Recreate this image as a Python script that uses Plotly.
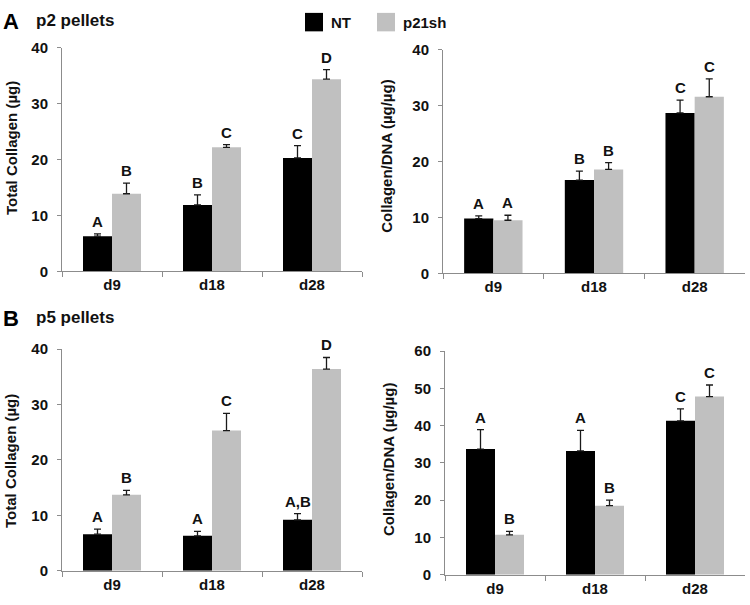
import plotly.graph_objects as go

W, H = 750, 605

categories = ["d9", "d18", "d28"]
series_names = ["NT", "p21sh"]

# Panel A (p2 pellets) - Total collagen
a_total_nt = [6.3, 11.9, 20.3]
a_total_nt_err = [0.4, 1.8, 2.2]
a_total_p21 = [13.9, 22.2, 34.4]
a_total_p21_err = [1.9, 0.5, 1.7]
a_total_nt_letters = ["A", "B", "C"]
a_total_p21_letters = ["B", "C", "D"]

# Panel A - Collagen/DNA
a_ratio_nt = [9.8, 16.7, 28.7]
a_ratio_nt_err = [0.5, 1.6, 2.3]
a_ratio_p21 = [9.5, 18.6, 31.6]
a_ratio_p21_err = [0.9, 1.2, 3.2]
a_ratio_nt_letters = ["A", "B", "C"]
a_ratio_p21_letters = ["A", "B", "C"]

# Panel B (p5 pellets) - Total collagen
b_total_nt = [6.6, 6.3, 9.2]
b_total_nt_err = [0.9, 0.8, 1.1]
b_total_p21 = [13.7, 25.3, 36.4]
b_total_p21_err = [0.8, 3.1, 2.1]
b_total_nt_letters = ["A", "A", "A,B"]
b_total_p21_letters = ["B", "C", "D"]

# Panel B - Collagen/DNA
b_ratio_nt = [33.7, 33.2, 41.3]
b_ratio_nt_err = [5.2, 5.5, 3.2]
b_ratio_p21 = [10.7, 18.5, 47.8]
b_ratio_p21_err = [0.9, 1.5, 3.1]
b_ratio_nt_letters = ["A", "A", "C"]
b_ratio_p21_letters = ["B", "B", "C"]

y_ranges = [[0, 40], [0, 40], [0, 40], [0, 60]]
y_dticks = [10, 10, 10, 10]
y_titles = ["Total Collagen (µg)", "Collagen/DNA (µg/µg)",
            "Total Collagen (µg)", "Collagen/DNA (µg/µg)"]

FONT = "Liberation Sans, Arial, sans-serif"
COL_NT = "#000000"
COL_P21 = "#c0c0c0"
BARGAP = 0.42

panels = [
    (a_total_nt, a_total_nt_err, a_total_p21, a_total_p21_err, a_total_nt_letters, a_total_p21_letters),
    (a_ratio_nt, a_ratio_nt_err, a_ratio_p21, a_ratio_p21_err, a_ratio_nt_letters, a_ratio_p21_letters),
    (b_total_nt, b_total_nt_err, b_total_p21, b_total_p21_err, b_total_nt_letters, b_total_p21_letters),
    (b_ratio_nt, b_ratio_nt_err, b_ratio_p21, b_ratio_p21_err, b_ratio_nt_letters, b_ratio_p21_letters),
]

# pixel layout of plot areas: (x0, x1, y_top, y_bottom)
px_boxes = [(62, 362, 40, 270), (443, 745, 42, 272), (62, 362, 350, 578), (445, 745, 352, 582)]
title_pos = [(12, 143), (387, 152), (11, 465), (389, 464)]

fig = go.Figure()
annotations = []
layout = {}

for i, (nt, nte, p21, p21e, ntl, p21l) in enumerate(panels):
    n = i + 1
    xa = "x" if n == 1 else f"x{n}"
    ya = "y" if n == 1 else f"y{n}"
    for vals, errs, col, name in [(nt, nte, COL_NT, series_names[0]), (p21, p21e, COL_P21, series_names[1])]:
        fig.add_trace(go.Bar(
            x=categories, y=vals, name=name, marker=dict(color=col, line=dict(width=0)),
            error_y=dict(type="data", symmetric=False, array=errs, arrayminus=[0] * len(errs),
                         color="#1a1a1a", thickness=1.3, width=3.5),
            xaxis=xa, yaxis=ya, showlegend=False, legendgroup=name,
        ))
    # significance letters above error bars
    half = (1 - BARGAP) / 4
    for j in range(len(categories)):
        for offs, vals, errs, letters in [(-half, nt, nte, ntl), (half, p21, p21e, p21l)]:
            annotations.append(dict(
                x=j + offs, y=vals[j] + errs[j], xref=xa, yref=ya,
                text=f"<b>{letters[j]}</b>", showarrow=False, yanchor="bottom", yshift=2,
                font=dict(family=FONT, size=15, color="#111111"),
            ))
    x0, x1, yt, yb = px_boxes[i]
    layout[f"xaxis{'' if n == 1 else n}"] = dict(
        domain=[x0 / W, x1 / W], anchor=ya, type="category",
        showline=True, linecolor="#8c8c8c", linewidth=1, ticks="outside", tickson="boundaries",
        ticklen=5, tickcolor="#8c8c8c", showgrid=False, zeroline=False,
        tickfont=dict(family=FONT, size=15, color="#111111", weight="bold"),
        range=[-0.5, 2.5],
    )
    layout[f"yaxis{'' if n == 1 else n}"] = dict(
        domain=[1 - yb / H, 1 - yt / H], anchor=xa, range=y_ranges[i], dtick=y_dticks[i],
        showline=True, linecolor="#8c8c8c", linewidth=1, ticks="outside", ticklen=4,
        tickcolor="#8c8c8c", showgrid=False, zeroline=False, ticklabelstandoff=6,
        tickfont=dict(family=FONT, size=15, color="#111111", weight="bold"),
    )
    tx, ty = title_pos[i]
    annotations.append(dict(
        x=tx / W, y=1 - ty / H, xref="paper", yref="paper", text=f"<b>{y_titles[i]}</b>",
        textangle=-90, showarrow=False, xanchor="center", yanchor="middle",
        font=dict(family=FONT, size=15, color="#111111"),
    ))

# Panel labels
for lab, sub, y in [("A", "p2 pellets", 13), ("B", "p5 pellets", 318)]:
    annotations.append(dict(x=1 / W, y=1 - y / H, xref="paper", yref="paper", text=f"<b>{lab}</b>",
                            showarrow=False, xanchor="left", yanchor="middle",
                            font=dict(family=FONT, size=22, color="#000000")))
    annotations.append(dict(x=34 / W, y=1 - (y - 1) / H, xref="paper", yref="paper", text=f"<b>{sub}</b>",
                            showarrow=False, xanchor="left", yanchor="middle",
                            font=dict(family=FONT, size=17, color="#111111")))

# Legend (boxes + text)
shapes = []
for name, col, sx in [(series_names[0], COL_NT, 305), (series_names[1], COL_P21, 377)]:
    shapes.append(dict(type="rect", xref="paper", yref="paper", x0=sx / W, x1=(sx + 18) / W,
                       y0=1 - 23 / H, y1=1 - 4 / H, fillcolor=col, line=dict(width=0)))
    annotations.append(dict(x=(sx + 24) / W, y=1 - 13.5 / H, xref="paper", yref="paper",
                            text=f"<b>{name}</b>", showarrow=False, xanchor="left", yanchor="middle",
                            font=dict(family=FONT, size=15, color="#111111")))

fig.update_layout(
    width=W, height=H, margin=dict(l=0, r=0, t=0, b=0),
    paper_bgcolor="white", plot_bgcolor="white",
    barmode="group", bargap=BARGAP, bargroupgap=0,
    annotations=annotations, shapes=shapes, showlegend=False,
    font=dict(family=FONT), **layout,
)

fig.write_html("out.html", config={"displayModeBar": False},
               post_script="document.body.style.margin='0';")
